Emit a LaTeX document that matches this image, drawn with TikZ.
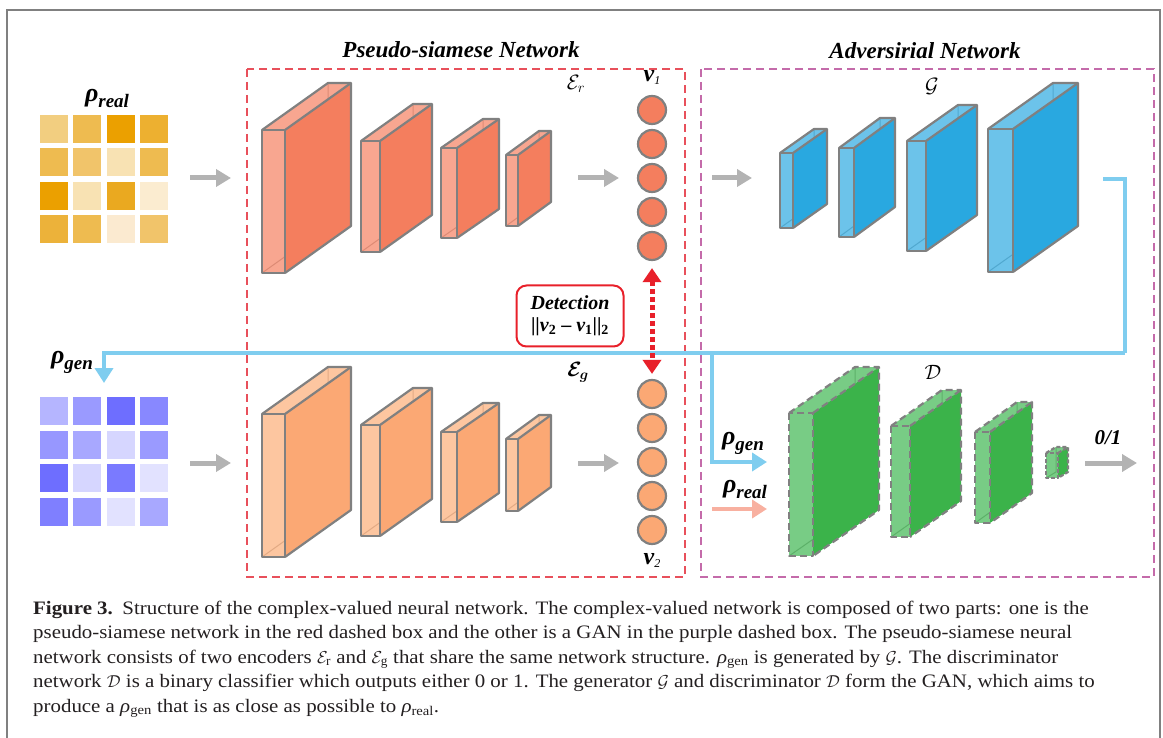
\documentclass[tikz,border=0pt]{standalone}
\usepackage{fontspec}
\setmainfont{Liberation Serif}
\newfontfamily\capfont[FakeStretch=1.1]{Liberation Serif}
\usepackage{amsmath}
\usetikzlibrary{arrows.meta}
\definecolor{framegray}{HTML}{808080}
\definecolor{arrowgray}{HTML}{B3B3B3}
\definecolor{redbox}{HTML}{E8505B}
\definecolor{purplebox}{HTML}{C46BAA}
\definecolor{detred}{HTML}{E8202A}
\definecolor{skyline}{HTML}{7FCDEF}
\definecolor{pinkline}{HTML}{F8B0A0}
\definecolor{erlight}{HTML}{F8A690}
\definecolor{erdark}{HTML}{F47E5E}
\definecolor{eglight}{HTML}{FDC6A0}
\definecolor{egdark}{HTML}{FBA874}
\definecolor{glight}{HTML}{6CC3EA}
\definecolor{gdark}{HTML}{29A8E0}
\definecolor{dlight}{HTML}{78CC85}
\definecolor{ddark}{HTML}{3BB34A}
\definecolor{captext}{HTML}{231F20}
\newcommand\bi{\bfseries\itshape}
\newcommand\rholab[1]{{\fontsize{26}{26}\selectfont\bi ρ}{\fontsize{19}{19}\selectfont\bi\raisebox{-6pt}{#1}}}
\newcommand\vlab[1]{{\fontsize{24}{24}\selectfont\bi v}{\fontsize{12}{12}\selectfont\itshape\raisebox{-3pt}{#1}}}
\tikzset{
  slabedge/.style={draw=framegray, line width=2.2pt, line join=round},
  grayarrow/.style={draw=arrowgray, line width=5pt, -{Triangle[length=15pt,width=17pt]}},
  circ/.style={circle, draw=framegray, line width=2.2pt, minimum size=28pt, inner sep=0pt},
  cell/.style={minimum size=28pt, inner sep=0pt},
  dashbox/.style={line width=2pt, dash pattern=on 8pt off 5pt},
  lab/.style={inner sep=0pt},
  title/.style={inner sep=0pt, font=\fontsize{23}{23}\selectfont\bi},
  capline/.style={anchor=base west, inner sep=0pt, text=captext, font=\capfont\fontsize{19}{24}\selectfont},
}
\newcommand\slab[9]{%
  \fill[#7] (#1,#2) -- ++(#5,-#6) -- ++(#3,0) -- ++(-#5,#6) -- cycle;
  \fill[#7] (#1,#2) rectangle ++(#3,#4);
  \draw[line width=1pt,#8!70!black,opacity=0.35] (#1+#5,#2-#6) -- ++(0,#4) (#1,#2+#4) -- ++(#5,-#6);
  \fill[#8] (#1+#3,#2) -- ++(#5,-#6) -- ++(0,#4) -- ++(-#5,#6) -- cycle;
  \draw[slabedge,#9] (#1,#2) rectangle ++(#3,#4);
  \draw[slabedge,#9] (#1,#2) -- ++(#5,-#6) -- ++(#3,0) -- ++(0,#4) -- ++(-#5,#6);
  \draw[slabedge,#9] (#1+#3,#2) -- ++(#5,-#6);
}
\begin{document}
\begin{tikzpicture}[x=1pt,y=-1pt]
\useasboundingbox (0,0) rectangle (1163,738);
% outer frame
\draw[framegray, line width=1.5pt] (7,745) -- (7,10) -- (1160,10) -- (1160,745);
% titles
\node[title] (t1) at (461,50) {Pseudo-siamese Network};
\node[title] (t2) at (925,51) {Adversirial Network};
% dashed boxes
\draw[dashbox, redbox] (247,69) rectangle (685,577);
\draw[dashbox, purplebox] (701,69) rectangle (1154,577);
% rho_real matrix
\node[lab] (rreal) at (107,98) {\rholab{real}};
\foreach \c [count=\i from 0] in {F2CE80,EEBB50,EBA000,EDB030,
                                   EEBB50,F1C46A,F8E2B3,EEBB50,
                                   EBA000,F8E2B3,EAA920,FBECD0,
                                   ECB23A,EEBB50,FBEAD0,F1C46A}{
  \pgfmathtruncatemacro\col{mod(\i,4)}
  \pgfmathtruncatemacro\row{div(\i,4)}
  \definecolor{cc}{HTML}{\c}
  \node[cell, fill=cc] (r\i) at (54+33.3*\col, 129+33.5*\row) {};
}
% rho_gen matrix
\node[lab] (rgen) at (72,362) {\rholab{gen}};
\foreach \c [count=\i from 0] in {B5B5FF,9A9AFF,6E6EFF,8888FF,
                                   9797FF,A8A8FF,D6D6FF,9A9AFF,
                                   6E6EFF,D6D6FF,7A7AFF,E2E2FF,
                                   7F7FFF,9A9AFF,E2E2FF,A8A8FF}{
  \pgfmathtruncatemacro\col{mod(\i,4)}
  \pgfmathtruncatemacro\row{div(\i,4)}
  \definecolor{cc}{HTML}{\c}
  \node[cell, fill=cc] (g\i) at (54+33.3*\col, 411+33.5*\row) {};
}
% input arrows
\coordinate (a1s) at (190,178); \coordinate (a1e) at (231,178);
\draw[grayarrow] (a1s) -- (a1e);
\coordinate (a2s) at (190,463); \coordinate (a2e) at (231,463);
\draw[grayarrow] (a2s) -- (a2e);
% E_r
\slab{262}{130}{23}{143}{66}{47}{erlight}{erdark}{}
\slab{361}{141}{19}{111}{52}{37}{erlight}{erdark}{}
\slab{441}{148}{16}{90}{42}{29}{erlight}{erdark}{}
\slab{506}{155}{12}{71}{33}{24}{erlight}{erdark}{}
\node[lab, font=\fontsize{22}{22}\selectfont] (er) at (576,84) {$\mathcal{E}_r$};
\coordinate (a3s) at (578,178); \coordinate (a3e) at (619,178);
\draw[grayarrow] (a3s) -- (a3e);
% E_g
\slab{262}{414}{23}{143}{66}{47}{eglight}{egdark}{}
\slab{361}{425}{19}{111}{52}{37}{eglight}{egdark}{}
\slab{441}{432}{16}{90}{42}{29}{eglight}{egdark}{}
\slab{506}{439}{12}{72}{33}{24}{eglight}{egdark}{}
\node[lab, font=\fontsize{22}{22}\selectfont] (eg) at (578,372) {$\boldsymbol{\mathcal{E}_g}$};
\coordinate (a4s) at (578,463); \coordinate (a4e) at (619,463);
\draw[grayarrow] (a4s) -- (a4e);
% v1 and v2
\foreach \k [count=\i] in {110,144,178,212,246}{
  \node[circ, fill=erdark] (v1c\i) at (652,\k) {};
}
\foreach \k [count=\i] in {394,428,462,496,530}{
  \node[circ, fill=egdark] (v2c\i) at (652,\k) {};
}
\node[lab] (v1) at (652,77) {\vlab{1}};
\node[lab] (v2) at (652,560) {\vlab{2}};
% G
\coordinate (a5s) at (712,178); \coordinate (a5e) at (752,178);
\draw[grayarrow] (a5s) -- (a5e);
\slab{780}{153}{13}{75}{34}{24}{glight}{gdark}{}
\slab{839}{148}{15}{89}{41}{30}{glight}{gdark}{}
\slab{907}{141}{19}{110}{51}{36}{glight}{gdark}{}
\slab{988}{129}{25}{143}{65}{46}{glight}{gdark}{}
\node[lab, font=\fontsize{22}{22}\selectfont] (gl) at (932,86) {$\mathcal{G}$};
% blue feedback line
\coordinate (gout) at (1103,179);
\coordinate (gturn) at (1125,353);
\coordinate (rgenin) at (104,383);
\coordinate (split) at (712,353);
\coordinate (dgenin) at (767,462);
\draw[skyline, line width=4pt] (gout) -| (gturn);
\draw[skyline, line width=4pt, -{Triangle[length=15pt,width=18pt]}] (gturn) -| (rgenin);
\draw[skyline, line width=4pt, -{Triangle[length=15pt,width=18pt]}] (split) |- (dgenin);
% detection
\node[draw=detred, line width=2pt, rounded corners=10pt, minimum width=107pt, minimum height=61pt, align=center, inner sep=2pt, font=\fontsize{20}{24}\selectfont] (det) at (570,316)
  {{\bi Detection}\\[-2pt]\bfseries ||{\itshape v}\textsubscript{2} – {\itshape v}\textsubscript{1}||\textsubscript{2}};
\draw[detred, line width=5pt, dash pattern=on 5pt off 3pt, {Triangle[length=14pt,width=18pt]}-{Triangle[length=14pt,width=18pt]}, shorten <=7pt, shorten >=5pt] (v1c5.south) -- (v2c1.north);
% D
\node[lab] (dgen) at (743,443) {\rholab{gen}};
\node[lab] (dreal) at (745,489) {\rholab{real}};
\coordinate (prs) at (712,509); \coordinate (pre) at (767,509);
\draw[pinkline, line width=4pt, -{Triangle[length=15pt,width=18pt]}] (prs) -- (pre);
\slab{789}{413}{24}{143}{66}{46}{dlight}{ddark}{dash pattern=on 7pt off 4pt}
\slab{891}{426}{19}{111}{51}{36}{dlight}{ddark}{dash pattern=on 7pt off 4pt}
\slab{975}{432}{15}{91}{42}{30}{dlight}{ddark}{dash pattern=on 7pt off 4pt}
\slab{1046}{453}{12}{25}{10}{6}{dlight}{ddark}{dash pattern=on 4pt off 2pt}
\node[lab, font=\fontsize{22}{22}\selectfont] (dl) at (933,372) {$\mathcal{D}$};
\coordinate (a6s) at (1085,463); \coordinate (a6e) at (1137,463);
\draw[grayarrow] (a6s) -- (a6e);
\node[lab, font=\fontsize{21}{21}\selectfont\bi] (out) at (1108,438) {0/1};
% caption
\node[capline] (c1) at (33,614) {\textbf{Figure 3.}\enspace Structure of the complex-valued neural network. The complex-valued network is composed of two parts: one is the};
\node[capline] (c2) at (33,638) {pseudo-siamese network in the red dashed box and the other is a GAN in the purple dashed box. The pseudo-siamese neural};
\node[capline] (c3) at (33,663) {network consists of two encoders $\mathcal{E}_{\mathrm{r}}$ and $\mathcal{E}_{\mathrm{g}}$ that share the same network structure. \textit{ρ}\textsubscript{gen} is generated by $\mathcal{G}$. The discriminator};
\node[capline] (c4) at (33,687) {network $\mathcal{D}$ is a binary classifier which outputs either 0 or 1. The generator $\mathcal{G}$ and discriminator $\mathcal{D}$ form the GAN, which aims to};
\node[capline] (c5) at (33,712) {produce a \textit{ρ}\textsubscript{gen} that is as close as possible to \textit{ρ}\textsubscript{real}.};
\end{tikzpicture}
\end{document}
